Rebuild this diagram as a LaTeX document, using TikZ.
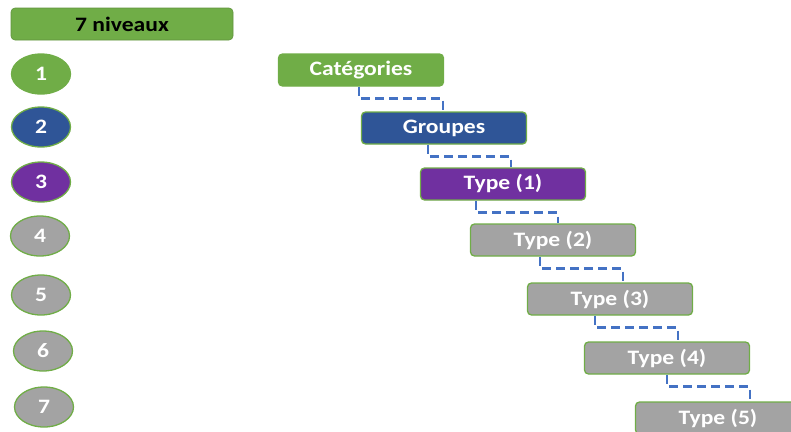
\documentclass[tikz,border=0pt]{standalone}
\usepackage{fontspec}
\setmainfont{Carlito}[FakeStretch=1.15]
\usetikzlibrary{positioning,shapes.geometric}

\definecolor{lvgreen}{RGB}{112,173,71}
\definecolor{lvblue}{RGB}{47,85,151}
\definecolor{lvpurple}{RGB}{112,48,160}
\definecolor{lvgray}{RGB}{163,163,163}
\definecolor{lvline}{RGB}{68,114,196}

\begin{document}
\begin{tikzpicture}[x=1pt,y=-1pt,
    font=\fontsize{20.5}{23}\selectfont\bfseries,
    level box/.style={rectangle,rounded corners=4pt,draw=lvgreen,line width=1.3pt,
      text=white,minimum width=165pt,minimum height=32pt,inner sep=0pt},
    level dot/.style={ellipse,draw=lvgreen,line width=1.3pt,text=white,
      minimum width=59pt,minimum height=40pt,inner sep=0pt},
    link/.style={draw=lvline,line width=2.8pt,dash pattern=on 9pt off 5pt}]

  \useasboundingbox (0,0) rectangle (791,431);

  % legende a gauche
  \node[rectangle,rounded corners=4pt,fill=lvgreen,draw=lvgreen!85!black,line width=0.6pt,
    minimum width=222pt,minimum height=32pt,inner sep=0pt] (title) at (122,24) {7 niveaux};

  \node[level dot,fill=lvgreen] (n1) at (41,74) {1};
  \node[level dot,fill=lvblue] (n2) at (41,127) {2};
  \node[level dot,fill=lvpurple] (n3) at (41,182) {3};
  \node[level dot,fill=lvgray] (n4) at (40,236) {4};
  \node[level dot,fill=lvgray] (n5) at (41,295) {5};
  \node[level dot,fill=lvgray] (n6) at (43,351) {6};
  \node[level dot,fill=lvgray] (n7) at (44,407) {7};

  % escalier des niveaux
  \node[level box,fill=lvgreen] (cat) at (361,70) {Catégories};
  \node[level box,fill=lvblue] (grp) at (444,128) {Groupes};
  \node[level box,fill=lvpurple] (t1) at (503,184) {Type (1)};
  \node[level box,fill=lvgray] (t2) at (553,240) {Type (2)};
  \node[level box,fill=lvgray] (t3) at (610,299) {Type (3)};
  \node[level box,fill=lvgray] (t4) at (667,358) {Type (4)};
  \node[level box,fill=lvgray] (t5) at (718,418) {Type (5)};

  \foreach \from/\to/\a/\b in {cat/grp/-2/-1, grp/t1/-16/8, t1/t2/-27/5,
      t2/t3/-13/13, t3/t4/-15/11, t4/t5/0/32}
    \draw[link] ([xshift=\a pt]\from.south) -- ++(0,12) -| ([xshift=\b pt]\to.north);

\end{tikzpicture}
\end{document}
